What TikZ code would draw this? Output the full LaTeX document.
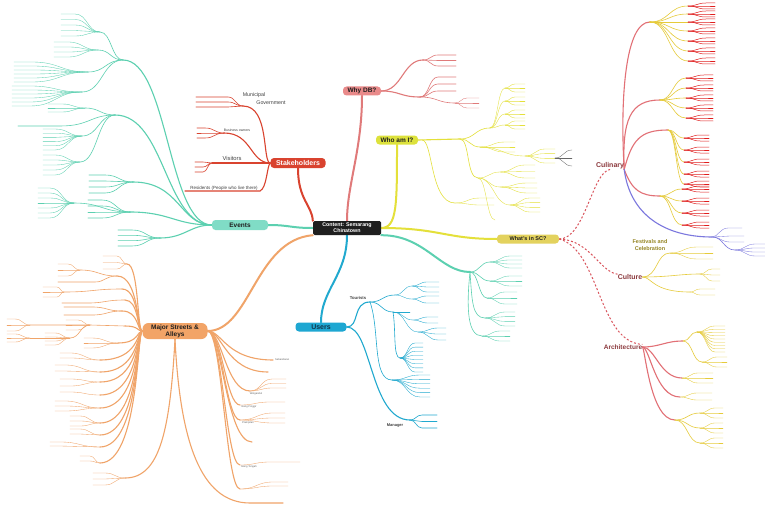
\documentclass[tikz,border=0pt]{standalone}
\usepackage{fontspec}
\setmainfont{Liberation Sans}
\pgfdeclarelayer{bg}
\pgfsetlayers{bg,main}
\definecolor{cTeal}{HTML}{5CD0B0}
\definecolor{cTealF}{HTML}{80DCC6}
\definecolor{cRed}{HTML}{D9432F}
\definecolor{cPink}{HTML}{E07A7A}
\definecolor{cPinkF}{HTML}{E98A8A}
\definecolor{cYel}{HTML}{E4E03A}
\definecolor{cYelF}{HTML}{DDE23C}
\definecolor{cKhakiF}{HTML}{E3D25E}
\definecolor{cCyan}{HTML}{21A9CF}
\definecolor{cCyanF}{HTML}{1EA7D2}
\definecolor{cOr}{HTML}{F0A469}
\definecolor{cOrF}{HTML}{F2A467}
\definecolor{cDk}{HTML}{1F1F1F}
\definecolor{cDkRed}{HTML}{8C3A3E}
\definecolor{cOlive}{HTML}{968626}
\definecolor{cCR}{HTML}{E01E1E}
\definecolor{cCY}{HTML}{E6CB3A}
\definecolor{cCT}{HTML}{E27076}
\definecolor{cPur}{HTML}{7C78DE}
\definecolor{cDash}{HTML}{D9545C}
\definecolor{cGray}{HTML}{666666}
\definecolor{cNavy}{HTML}{12364A}
\newcommand\brch[5]{\draw[#1] (#2,{#3}) .. controls ({0.5*(#2)+0.5*(#4)},{#3}) and ({0.5*(#2)+0.5*(#4)},{#5}) .. (#4,{#5});}
\newcommand\fanl[8]{\foreach \k in {1,...,#7}{\pgfmathsetmacro\yy{(#5)+((#6)-(#5))*(\k-1)/max((#7)-1,1)}\draw[#1] (#2,{#3}) .. controls ({0.5*(#2)+0.5*(#4)},{#3}) and ({0.5*(#2)+0.5*(#4)},\yy) .. (#4,\yy) -- ++(#8,0);}}
\newcommand\clus[5]{\foreach \q in {#4}{\brch{leafln,cCY}{#1}{#2}{#3}{\q}\fanl{redln,cCR}{#3}{\q}{#5}{\q-3}{\q+3}{3}{9}}}
\newcommand\msl[2]{\draw[subln,cOr] (ms.west) .. controls (137,331) and (139,#2) .. (#1,#2);}
\newcommand\msr[2]{\draw[subln,cOr] (ms.east) .. controls (222,331) and (226,#2) .. (#1,#2);}
\begin{document}
\begin{tikzpicture}[x=1pt,y=-1pt,
 mainln/.style={line width=2pt,line cap=round},
 subln/.style={line width=1.1pt,line cap=round},
 leafln/.style={line width=0.6pt,line cap=round},
 redln/.style={line width=0.5pt,line cap=round},
 tinyln/.style={line width=0.35pt,line cap=round},
 topic/.style={rounded corners=3.5pt,inner sep=0pt,align=center,font=\bfseries\fontsize{6.5}{7}\selectfont},
 lbl/.style={inner sep=0pt,font=\fontsize{5.3}{6}\selectfont,text=cDk!85},
 tiny/.style={inner sep=0pt,font=\fontsize{2.6}{3}\selectfont,text=cGray},
 xlink/.style={cDash,line width=1pt,dash pattern=on 2pt off 2pt}]
\useasboundingbox (0,0) rectangle (765,508);
% ---------- nodes ----------
\node[topic,fill=cDk,text=white,minimum width=68pt,minimum height=14pt,rounded corners=1.5pt,font=\bfseries\fontsize{5.3}{6}\selectfont] (cen) at (347,228) {Content: Semarang\\Chinatown};
\node[topic,fill=cRed,text=white,minimum width=55pt,minimum height=10pt,font=\bfseries\fontsize{7}{8}\selectfont] (sh) at (298,163) {Stakeholders};
\node[topic,fill=cPinkF,text=cDk,minimum width=38pt,minimum height=9pt] (why) at (362,91) {Why DB?};
\node[topic,fill=cYelF,text=cDk,minimum width=42pt,minimum height=9pt] (who) at (397,140) {Who am I?};
\node[topic,fill=cKhakiF,text=cDk,minimum width=62pt,minimum height=9pt,font=\bfseries\fontsize{5.5}{6}\selectfont] (wsc) at (528,239) {What's in SC?};
\node[topic,fill=cTealF,text=cDk,minimum width=56pt,minimum height=10pt] (ev) at (240,225) {Events};
\node[topic,fill=cCyanF,text=cNavy,minimum width=51pt,minimum height=9pt,font=\bfseries\fontsize{7}{8}\selectfont] (usr) at (321,327) {Users};
\node[topic,fill=cOrF,text=cDk,minimum width=65pt,minimum height=16pt,rounded corners=6pt,font=\bfseries\fontsize{6.5}{7}\selectfont] (ms) at (175,331) {Major Streets \&\\Alleys};
\node[inner sep=0pt,text=cDkRed,font=\bfseries\fontsize{7}{8}\selectfont] (cul) at (610,166) {Culinary};
\node[inner sep=0pt,text=cOlive,align=center,font=\bfseries\fontsize{5.5}{6.5}\selectfont] (fes) at (650,245) {Festivals and\\Celebration};
\node[inner sep=0pt,text=cDkRed,font=\bfseries\fontsize{7}{8}\selectfont] (ctr) at (630,277) {Culture};
\node[inner sep=0pt,text=cDkRed,font=\bfseries\fontsize{6.5}{7.5}\selectfont] (arc) at (623,347) {Architecture};
\node[lbl] (mun1) at (254,95) {Municipal};
\node[lbl] (mun2) at (271,103) {Government};
\node[lbl,font=\fontsize{5.8}{6.5}\selectfont] (vis) at (232,158) {Visitors};
\node[lbl,font=\fontsize{3.5}{4}\selectfont] (bus) at (237,130) {Business owners};
\node[lbl,font=\fontsize{4.5}{5}\selectfont] (res) at (224,188) {Residents (People who live there)};
\node[lbl,font=\bfseries\fontsize{4.2}{5}\selectfont] (tou) at (358,298) {Tourists};
\node[lbl,font=\bfseries\fontsize{4}{5}\selectfont] (mgr) at (395,426) {Manager};
\node[tiny,anchor=west] (st1) at (275,360) {Sebandaran};
\node[tiny] (st2) at (256,394) {Wotgandul};
\node[tiny] (st3) at (249,407) {Gang Pinggir};
\node[tiny] (st4) at (248,423) {Plampitan};
\node[tiny] (st5) at (249,467) {Gang Tengah};
\begin{pgfonlayer}{bg}
\fill[white] (0,0) rectangle (765,508);
% ---------- main connectors ----------
\draw[mainln,cRed] (sh.south) .. controls (298,200) and (312,205) .. (cen.north west);
\draw[mainln,cPink] (why.south) .. controls (362,150) and (347,185) .. (cen.north);
\draw[mainln,cYel] (who.south) .. controls (397,205) and (397,228) .. (cen.east);
\draw[mainln,cYel] (cen.east) .. controls (440,228) and (445,239) .. (wsc.west);
\draw[mainln,cTeal] (cen.west) .. controls (290,228) and (290,225) .. (ev.east);
\draw[mainln,cTeal] (cen.south east) .. controls (425,235) and (440,272) .. (470,272);
\draw[mainln,cCyan] (cen.south) .. controls (347,275) and (321,290) .. (usr.north);
\draw[mainln,cOr] (cen.south west) .. controls (255,240) and (250,331) .. (ms.east);
\draw[xlink] (wsc.east) .. controls (585,239) and (592,172) .. (cul.south);
\draw[xlink] (wsc.east) .. controls (590,240) and (600,272) .. (ctr.north west);
\draw[xlink] (wsc.east) .. controls (600,250) and (598,342) .. (arc.north east);
% ---------- Events ----------
\draw[subln,cTeal] (ev.west) .. controls (168,225) and (168,60) .. (123,60);
\draw[subln,cTeal] (ev.west) .. controls (165,225) and (165,115) .. (115,115);
\draw[subln,cTeal] (ev.west) .. controls (180,225) and (180,182) .. (133,182);
\draw[subln,cTeal] (ev.west) .. controls (175,225) and (170,212) .. (130,212);
\draw[subln,cTeal] (ev.west) .. controls (190,225) and (185,238) .. (160,238);
\brch{leafln,cTeal}{123}{60}{100}{32}
\fanl{tinyln,cTeal}{100}{32}{75}{14}{36}{5}{-14}
\brch{leafln,cTeal}{123}{60}{98}{50}
\fanl{tinyln,cTeal}{98}{50}{68}{42}{57}{4}{-14}
\brch{leafln,cTeal}{123}{60}{88}{72}
\fanl{tinyln,cTeal}{88}{72}{32}{62}{82}{6}{-18}
\brch{leafln,cTeal}{123}{60}{82}{92}
\fanl{tinyln,cTeal}{82}{92}{30}{86}{106}{6}{-18}
\brch{leafln,cTeal}{115}{115}{85}{108}
\fanl{tinyln,cTeal}{85}{108}{62}{104}{112}{3}{-14}
\draw[leafln,cTeal] (115,115) .. controls (90,115) and (90,126) .. (60,126) -- (18,126);
\brch{leafln,cTeal}{115}{115}{82}{136}
\fanl{tinyln,cTeal}{82}{136}{55}{129}{150}{6}{-12}
\brch{leafln,cTeal}{115}{115}{80}{162}
\fanl{tinyln,cTeal}{80}{162}{55}{155}{175}{5}{-12}
\fanl{leafln,cTeal}{133}{182}{105}{175}{193}{4}{-16}
\fanl{leafln,cTeal}{130}{212}{102}{200}{218}{4}{-14}
\brch{leafln,cTeal}{130}{212}{74}{203}
\fanl{tinyln,cTeal}{74}{203}{50}{188}{218}{7}{-12}
\fanl{leafln,cTeal}{160}{238}{132}{230}{246}{4}{-14}
% ---------- Stakeholders ----------
\draw[subln,cRed] (sh.west) .. controls (262,163) and (270,106) .. (243,106);
\fanl{leafln,cRed}{243}{106}{228}{97}{107}{3}{-32}
\draw[subln,cRed] (sh.west) .. controls (250,163) and (252,133) .. (224,133);
\fanl{leafln,cRed}{224}{133}{205}{128}{138}{3}{-8}
\draw[subln,cRed] (sh.west) -- (212,163);
\fanl{leafln,cRed}{212}{163}{203}{162}{172}{3}{-8}
\draw[subln,cRed] (sh.west) .. controls (267,165) and (267,188) .. (260,191) -- (185,191);
% ---------- Why DB ----------
\draw[subln,cPink] (why.east) .. controls (402,91) and (403,60) .. (423,60);
\fanl{leafln,cPink}{423}{60}{438}{55}{66}{3}{18}
\draw[subln,cPink] (why.east) .. controls (400,91) and (400,97) .. (420,97);
\fanl{leafln,cPink}{420}{97}{438}{77}{91}{3}{18}
\brch{leafln,cPink}{420}{97}{455}{103}
\fanl{tinyln,cPink}{455}{103}{467}{98}{108}{3}{12}
% ---------- Who am I ----------
\draw[subln,cYel] (who.east) -- (460,139);
\brch{leafln,cYel}{460}{139}{490}{128}
\foreach \q in {88,101,114,125}{\brch{tinyln,cYel}{490}{128}{505}{\q}\fanl{tinyln,cYel}{505}{\q}{515}{\q-4}{\q+4}{3}{10}}
\brch{leafln,cYel}{460}{139}{480}{147}
\fanl{tinyln,cYel}{480}{147}{505}{142}{152}{3}{10}
\brch{tinyln,cYel}{480}{147}{525}{156}
\fanl{tinyln,cYel}{525}{156}{545}{149}{163}{4}{10}
\fanl{tinyln,cGray}{555}{158}{572}{150}{166}{3}{0}
\draw[leafln,cYel] (460,139) .. controls (470,139) and (466,178) .. (478,178);
\brch{tinyln,cYel}{478}{178}{500}{172}
\fanl{tinyln,cYel}{500}{172}{525}{165}{178}{3}{10}
\brch{tinyln,cYel}{478}{178}{500}{187}
\fanl{tinyln,cYel}{500}{187}{527}{183}{193}{3}{10}
\brch{tinyln,cYel}{478}{178}{510}{205}
\fanl{tinyln,cYel}{510}{205}{530}{198}{212}{4}{10}
\brch{tinyln,cYel}{478}{178}{495}{220}
\draw[leafln,cYel] (422,140) .. controls (433,140) and (430,203) .. (455,203);
\fanl{tinyln,cYel}{455}{203}{480}{198}{205}{2}{14}
% ---------- teal right ----------
\brch{leafln,cTeal}{470}{272}{490}{262}
\fanl{tinyln,cTeal}{490}{262}{510}{256}{268}{4}{12}
\brch{leafln,cTeal}{470}{272}{490}{281}
\fanl{tinyln,cTeal}{490}{281}{510}{276}{286}{3}{12}
\brch{leafln,cTeal}{470}{272}{487}{298}
\fanl{tinyln,cTeal}{487}{298}{505}{292}{304}{3}{12}
\draw[leafln,cTeal] (470,272) .. controls (472,300) and (472,318) .. (485,318);
\fanl{tinyln,cTeal}{485}{318}{505}{312}{326}{4}{10}
\draw[leafln,cTeal] (470,272) .. controls (466,310) and (468,336) .. (482,336);
\fanl{tinyln,cTeal}{482}{336}{500}{331}{341}{3}{10}
% ---------- Users ----------
\draw[subln,cCyan] (usr.east) .. controls (360,327) and (352,302) .. (370,302);
\brch{leafln,cCyan}{370}{302}{395}{295}
\brch{tinyln,cCyan}{395}{295}{412}{286}
\fanl{tinyln,cCyan}{412}{286}{427}{282}{292}{3}{12}
\brch{tinyln,cCyan}{395}{295}{412}{299}
\fanl{tinyln,cCyan}{412}{299}{427}{296}{303}{2}{12}
\brch{leafln,cCyan}{370}{302}{393}{312}
\draw[tinyln,cCyan] (393,312) -- (410,312);
\brch{tinyln,cCyan}{393}{312}{413}{320}
\fanl{tinyln,cCyan}{413}{320}{428}{317}{323}{2}{10}
\brch{tinyln,cCyan}{393}{312}{418}{332}
\fanl{tinyln,cCyan}{418}{332}{438}{328}{340}{3}{8}
\draw[leafln,cCyan] (393,312) .. controls (396,330) and (393,358) .. (400,358);
\fanl{tinyln,cCyan}{400}{358}{415}{343}{372}{8}{8}
\draw[leafln,cCyan] (370,302) .. controls (380,330) and (372,380) .. (392,380);
\fanl{tinyln,cCyan}{392}{380}{420}{375}{397}{6}{10}
\draw[subln,cCyan] (usr.east) .. controls (372,327) and (370,420) .. (410,420);
\fanl{leafln,cCyan}{410}{420}{422}{415}{428}{3}{15}
% ---------- Major streets left ----------
\msl{127}{264}
\fanl{tinyln,cOr}{127}{264}{117}{256}{269}{3}{-14}
\msl{117}{276}
\brch{leafln,cOr}{117}{276}{80}{270}
\fanl{tinyln,cOr}{80}{270}{68}{264}{276}{3}{-10}
\draw[leafln,cOr] (117,276) .. controls (105,276) and (105,282) .. (95,282) -- (58,282);
\msl{122}{289}
\brch{leafln,cOr}{122}{289}{64}{292}
\fanl{tinyln,cOr}{64}{292}{57}{287}{297}{3}{-14}
\msl{125}{300}
\draw[leafln,cOr] (125,300) .. controls (105,300) and (105,303) .. (88,303) -- (62,303);
\msl{122}{311}
\fanl{leafln,cOr}{122}{311}{92}{307}{315}{2}{-28}
\msl{125}{326}
\draw[leafln,cOr] (125,326) .. controls (108,326) and (108,325) .. (90,325) -- (30,325);
\fanl{tinyln,cOr}{90}{325}{78}{320}{330}{3}{-12}
\fanl{tinyln,cOr}{30}{325}{15}{319}{331}{3}{-8}
\brch{leafln,cOr}{90}{325}{70}{338}
\fanl{tinyln,cOr}{70}{338}{55}{333}{345}{4}{-10}
\brch{tinyln,cOr}{70}{338}{30}{338}
\fanl{tinyln,cOr}{30}{338}{15}{334}{342}{3}{-8}
\msl{118}{343}
\fanl{tinyln,cOr}{118}{343}{92}{338}{348}{3}{-8}
\foreach \hy/\lx/\ya/\yb/\nn in {360/70/353/358/2, 372/65/365/371/2, 382/70/379/386/2, 395/70/392/392/1, 408/65/401/411/3, 423/80/416/426/3, 435/80/429/434/2, 447/60/442/446/2, 463/90/456/461/2}{\msl{100}{\hy}\fanl{tinyln,cOr}{100}{\hy}{\lx}{\ya}{\yb}{\nn}{-10}}
\draw[subln,cOr] (ms.south) .. controls (170,430) and (160,478) .. (125,478);
\fanl{tinyln,cOr}{125}{478}{105}{473}{485}{3}{-12}
% ---------- Major streets right ----------
\msr{273}{360}
\msr{268}{372}
\msr{250}{391}
\fanl{tinyln,cOr}{250}{391}{272}{379}{388}{3}{14}
\msr{240}{405}
\draw[tinyln,cOr] (240,405) .. controls (255,405) and (255,402) .. (270,402) -- (285,402);
\msr{240}{420}
\fanl{tinyln,cOr}{240}{420}{273}{413}{423}{3}{12}
\msr{252}{442}
\msr{240}{465}
\draw[tinyln,cOr] (240,465) .. controls (255,465) and (255,462) .. (270,462) -- (300,462);
\msr{240}{489}
\fanl{tinyln,cOr}{240}{489}{273}{482}{486}{2}{15}
\draw[subln,cOr] (ms.south) .. controls (180,440) and (200,503) .. (250,503) -- (283,503);
% ---------- Culinary ----------
\draw[subln,cCT] (cul.south east) .. controls (620,100) and (625,22) .. (650,22);
\draw[subln,cCT] (cul.south east) .. controls (622,120) and (630,100) .. (660,100);
\draw[subln,cCT] (cul.south east) .. controls (632,140) and (640,130) .. (668,130);
\draw[subln,cCT] (cul.south east) .. controls (632,190) and (640,196) .. (660,196);
\clus{650}{22}{688}{6,14,22,31,41,51,61}{706}
\clus{660}{100}{686}{78,88,98,108,118}{704}
\clus{668}{130}{684}{138,150,162,174,184}{700}
\clus{660}{196}{682}{189,201,213,225}{700}
\draw[subln,cPur] (cul.south east) .. controls (630,215) and (665,237) .. (712,237);
\draw[tinyln,cPur] (712,237) .. controls (718,237) and (720,228) .. (728,228) -- (742,228);
\fanl{tinyln,cPur}{712}{237}{730}{236}{242}{2}{14}
\brch{leafln,cPur}{712}{237}{735}{250}
\fanl{tinyln,cPur}{735}{250}{755}{244}{256}{4}{10}
% ---------- Culture ----------
\draw[leafln,cCY] (ctr.east) .. controls (658,277) and (656,253) .. (670,253);
\fanl{tinyln,cCY}{670}{253}{697}{247}{259}{3}{16}
\draw[leafln,cCY] (ctr.east) .. controls (670,277) and (680,274) .. (700,274);
\fanl{tinyln,cCY}{700}{274}{712}{269}{281}{3}{8}
\draw[leafln,cCY] (ctr.east) .. controls (652,277) and (652,292) .. (690,292);
\fanl{tinyln,cCY}{690}{292}{700}{289}{295}{2}{15}
% ---------- Architecture ----------
\draw[subln,cCT] (arc.east) .. controls (660,347) and (665,341) .. (683,341);
\brch{leafln,cCY}{683}{341}{697}{332}
\fanl{tinyln,cCY}{697}{332}{715}{326}{352}{9}{10}
\brch{leafln,cCY}{683}{341}{702}{362}
\fanl{tinyln,cCY}{702}{362}{717}{357}{367}{3}{10}
\draw[subln,cCT] (arc.east) .. controls (655,347) and (660,378) .. (682,378);
\fanl{tinyln,cCY}{682}{378}{698}{373}{383}{3}{15}
\draw[subln,cCT] (arc.east) .. controls (650,347) and (655,397) .. (680,397);
\fanl{tinyln,cCY}{680}{397}{697}{393}{400}{2}{15}
\draw[subln,cCT] (arc.east) .. controls (645,347) and (650,420) .. (675,420);
\brch{leafln,cCY}{675}{420}{700}{413}
\fanl{tinyln,cCY}{700}{413}{715}{408}{418}{3}{8}
\brch{leafln,cCY}{675}{420}{700}{428}
\fanl{tinyln,cCY}{700}{428}{715}{423}{433}{3}{8}
\brch{leafln,cCY}{675}{420}{700}{443}
\fanl{tinyln,cCY}{700}{443}{715}{438}{448}{3}{8}
\end{pgfonlayer}
\end{tikzpicture}
\end{document}
